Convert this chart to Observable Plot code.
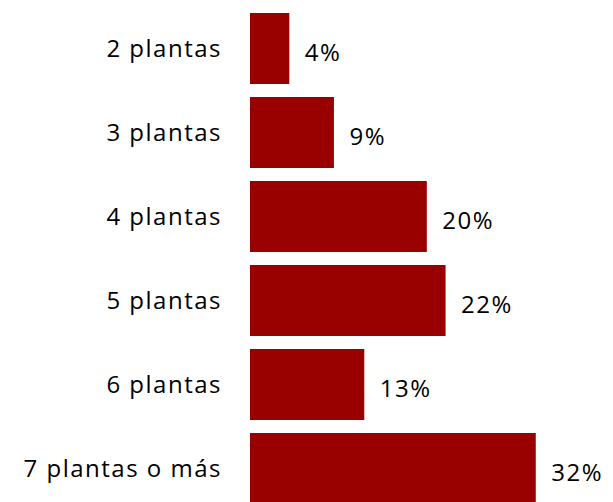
<!DOCTYPE html>
<html>
<head>
<meta charset="utf-8">
<script src="https://cdn.jsdelivr.net/npm/d3@7"></script>
<script src="https://cdn.jsdelivr.net/npm/@observablehq/plot@0.6"></script>
<style>
  html, body { margin: 0; padding: 0; background: #ffffff; overflow: hidden; }
</style>
</head>
<body>
<div id="chart"></div>
<script>
const categories = ["2 plantas", "3 plantas", "4 plantas", "5 plantas", "6 plantas", "7 plantas o más"];
const values = [4.4, 9.4, 19.8, 21.9, 12.8, 32.0];
const valueLabels = ["4%", "9%", "20%", "22%", "13%", "32%"];

const data = categories.map((c, i) => ({cat: c, value: values[i], label: valueLabels[i]}));

const chart = Plot.plot({
  width: 613,
  height: 502,
  marginLeft: 250,
  marginRight: 0,
  marginTop: 0,
  marginBottom: 0,
  style: {fontFamily: "'Open Sans', sans-serif", fontSize: "24px", letterSpacing: "1.5px", color: "#000", background: "#fff"},
  x: {domain: [0, 40.65], axis: null},
  y: {domain: categories, range: [11.7, 505.7], paddingInner: 0.154, paddingOuter: 0, label: null, axis: null},
  marks: [
    Plot.barX(data, {x: "value", y: "cat", fill: "#990000"}),
    Plot.text(data, {x: "value", y: "cat", text: "label", textAnchor: "start", dx: 15, dy: 4, fontSize: 24, fill: "#000"}),
    Plot.axisY({tickSize: 0, tickPadding: 28.5, fontSize: 24, label: null, anchor: "left", fill: "#000"})
  ]
});
document.getElementById("chart").appendChild(chart);
</script>
</body>
</html>
